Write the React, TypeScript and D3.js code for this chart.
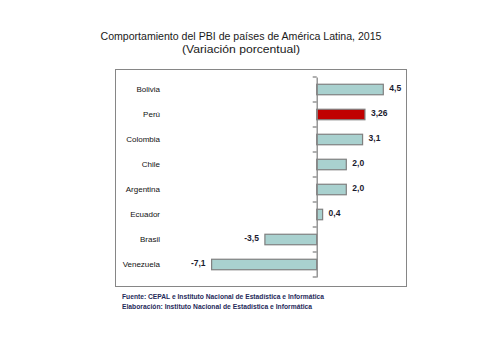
import React, { useRef, useEffect } from 'react';
import * as d3 from 'd3';

const countries = ['Bolivia', 'Perú', 'Colombia', 'Chile', 'Argentina', 'Ecuador', 'Brasil', 'Venezuela'];
const growth = [4.5, 3.26, 3.1, 2.0, 2.0, 0.4, -3.5, -7.1];
const valueLabels = ['4,5', '3,26', '3,1', '2,0', '2,0', '0,4', '-3,5', '-7,1'];
const highlight = 'Perú';

const titleLines = ['Comportamiento del PBI de países de América Latina, 2015', '(Variación porcentual)'];
const notes = [
  'Fuente: CEPAL e Instituto Nacional de Estadística e Informática',
  'Elaboración: Instituto Nacional de Estadística e Informática',
];

const App: React.FC = () => {
  const svgRef = useRef<SVGSVGElement>(null);

  useEffect(() => {
    if (!svgRef.current) return;
    const svg = d3.select(svgRef.current);
    svg.selectAll('*').remove();

    const font = '"Liberation Sans", Arial, sans-serif';

    svg.append('rect').attr('width', 480).attr('height', 360).attr('fill', '#fff');

    // Title
    titleLines.forEach((t, i) => {
      svg.append('text')
        .attr('x', 241).attr('y', 40 + i * 13)
        .attr('text-anchor', 'middle')
        .attr('font-family', font).attr('font-size', '11.5px')
        .attr('fill', '#1a1a1a')
        .attr('textLength', i === 0 ? 281 : 118)
        .attr('lengthAdjust', 'spacingAndGlyphs')
        .text(t);
    });

    // Plot frame
    svg.append('rect')
      .attr('x', 115.5).attr('y', 69.5).attr('width', 291).attr('height', 217)
      .attr('fill', 'none').attr('stroke', '#868686').attr('stroke-width', 1);

    const x = d3.scaleLinear().domain([-8, 5]).range([198.3, 390.7]);
    const y = d3.scaleBand<string>().domain(countries).range([77, 277]).paddingInner(0.58).paddingOuter(0.29);

    // Bars
    svg.selectAll('.bar')
      .data(countries)
      .enter().append('rect')
      .attr('class', 'bar')
      .attr('x', (_, i) => x(Math.min(0, growth[i])))
      .attr('y', (d) => (y(d) || 0))
      .attr('width', (_, i) => Math.abs(x(growth[i]) - x(0)))
      .attr('height', y.bandwidth())
      .attr('fill', (d) => (d === highlight ? '#c00000' : '#a9d1cf'))
      .attr('stroke', '#7f7f7f')
      .attr('stroke-width', 1.2);

    // Category axis at zero
    const axis = svg.append('g')
      .attr('transform', `translate(${x(0)},0)`)
      .call(d3.axisLeft(y).tickSize(0).tickFormat(() => ''));
    axis.select('.domain').attr('stroke', '#868686').attr('stroke-width', 1.3);
    // boundary ticks
    const step = y.step();
    const bounds = d3.range(countries.length + 1).map((i) => 77 + i * step);
    svg.selectAll('.btick')
      .data(bounds)
      .enter().append('line')
      .attr('x1', x(0) - 4).attr('x2', x(0))
      .attr('y1', (d) => d).attr('y2', (d) => d)
      .attr('stroke', '#868686').attr('stroke-width', 1.3);

    // Category labels
    svg.selectAll('.cat')
      .data(countries)
      .enter().append('text')
      .attr('x', 160)
      .attr('y', (d) => (y(d) || 0) + y.bandwidth() / 2)
      .attr('dy', '0.35em')
      .attr('text-anchor', 'end')
      .attr('font-family', font).attr('font-size', '8px')
      .attr('fill', '#111')
      .text((d) => d);

    // Value labels
    svg.selectAll('.val')
      .data(countries)
      .enter().append('text')
      .attr('x', (_, i) => x(growth[i]) + (growth[i] >= 0 ? 6 : -6))
      .attr('y', (d) => (y(d) || 0) + y.bandwidth() / 2 - 1.5)
      .attr('dy', '0.35em')
      .attr('text-anchor', (_, i) => (growth[i] >= 0 ? 'start' : 'end'))
      .attr('font-family', font).attr('font-size', '8.5px').attr('font-weight', 'bold')
      .attr('fill', '#1a1a2e')
      .text((_, i) => valueLabels[i]);

    // Notes
    notes.forEach((t, i) => {
      svg.append('text')
        .attr('x', 122).attr('y', 299 + i * 10)
        .attr('font-family', font).attr('font-size', '6.5px').attr('font-weight', 'bold')
        .attr('fill', '#1f2a5a')
        .attr('textLength', i === 0 ? 202 : 190)
        .attr('lengthAdjust', 'spacingAndGlyphs')
        .text(t);
    });
  }, []);

  return (
    <svg
      ref={svgRef}
      width={480}
      height={360}
      style={{ position: 'absolute', left: 0, top: 0, display: 'block' }}
    />
  );
};

export default App;
